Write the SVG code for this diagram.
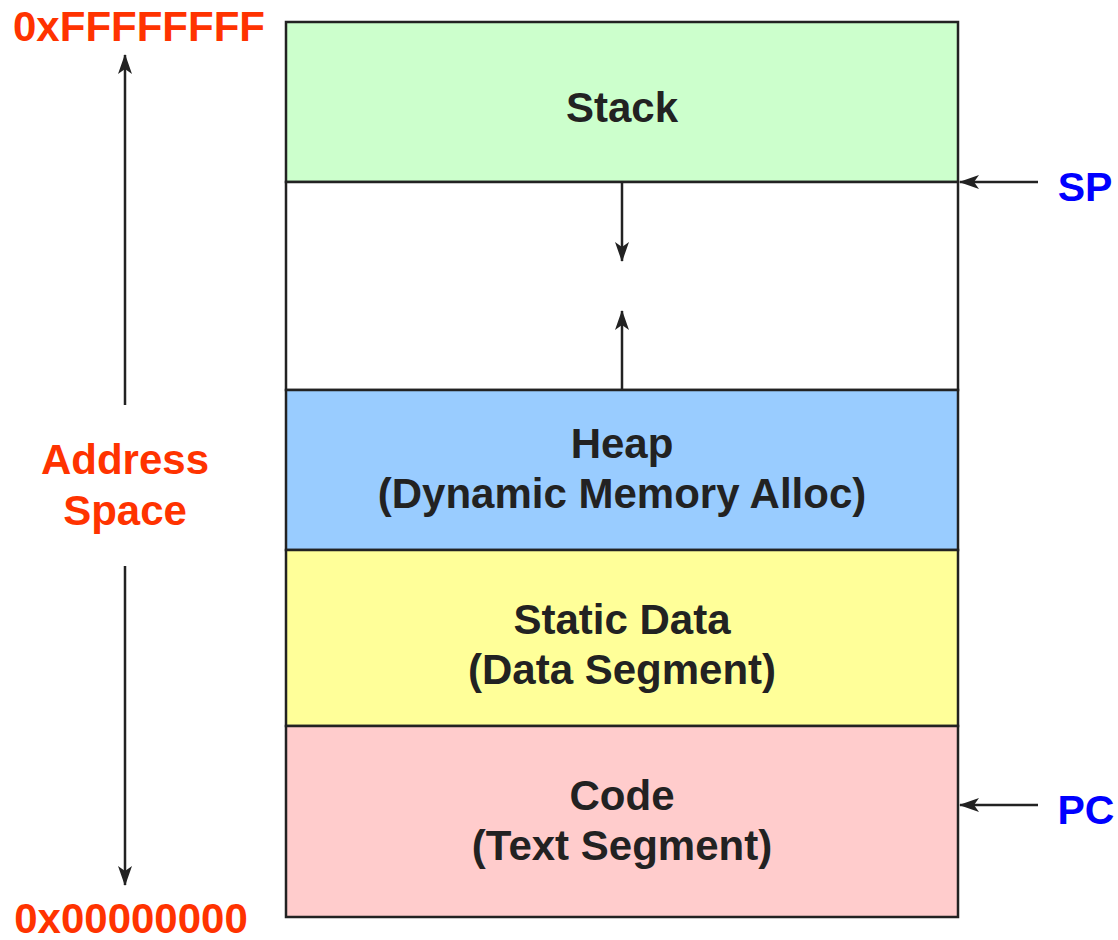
<svg xmlns="http://www.w3.org/2000/svg" width="1118" height="940" viewBox="0 0 1118 940">
<defs>
<style>
.seg{stroke:#222;stroke-width:2.5}
.t{font-family:"Liberation Sans",Arial,sans-serif;font-weight:bold;font-size:42px;fill:#222;text-anchor:middle}
.addr{font-family:"Liberation Sans",Arial,sans-serif;font-weight:bold;font-size:42px;fill:#ff3300;text-anchor:middle}
.reg{font-family:"Liberation Sans",Arial,sans-serif;font-weight:bold;font-size:41px;fill:#0000ff;text-anchor:middle}
.ln{stroke:#222;stroke-width:2.5;fill:none;marker-end:url(#ah)}
</style>
<marker id="ah" viewBox="0 0 20 14" refX="19" refY="7" markerWidth="20" markerHeight="14" markerUnits="userSpaceOnUse" orient="auto">
<path d="M0,0 L20,7 L0,14 L5,7 Z" fill="#222"/>
</marker>
</defs>
<g id="stack"><rect class="seg" x="286" y="22" width="672" height="160" fill="#ccffcc"/><text class="t" x="622" y="122">Stack</text></g>
<g id="free"><rect class="seg" x="286" y="182" width="672" height="208" fill="#ffffff"/></g>
<g id="heap"><rect class="seg" x="286" y="390" width="672" height="160" fill="#99ccff"/><text class="t" x="622" y="458">Heap</text><text class="t" x="622" y="508">(Dynamic Memory Alloc)</text></g>
<g id="static"><rect class="seg" x="286" y="550" width="672" height="176" fill="#ffff99"/><text class="t" x="622" y="634">Static Data</text><text class="t" x="622" y="684">(Data Segment)</text></g>
<g id="code"><rect class="seg" x="286" y="726" width="672" height="191" fill="#ffcccc"/><text class="t" x="622" y="810">Code</text><text class="t" x="622" y="860">(Text Segment)</text></g>
<g id="labels">
<text class="addr" x="139" y="41">0xFFFFFFFF</text>
<text class="addr" x="131" y="933">0x00000000</text>
<text class="addr" x="125" y="474">Address</text>
<text class="addr" x="125" y="525">Space</text>
<text class="reg" x="1085" y="201">SP</text>
<text class="reg" x="1086" y="824">PC</text>
</g>
<g id="connectors">
<line class="ln" x1="125" y1="405" x2="125" y2="55"/>
<line class="ln" x1="125" y1="566" x2="125" y2="885"/>
<line class="ln" x1="622" y1="182" x2="622" y2="261"/>
<line class="ln" x1="622" y1="390" x2="622" y2="311"/>
<line class="ln" x1="1038" y1="182" x2="960" y2="182"/>
<line class="ln" x1="1038" y1="805" x2="960" y2="805"/>
</g>
</svg>
